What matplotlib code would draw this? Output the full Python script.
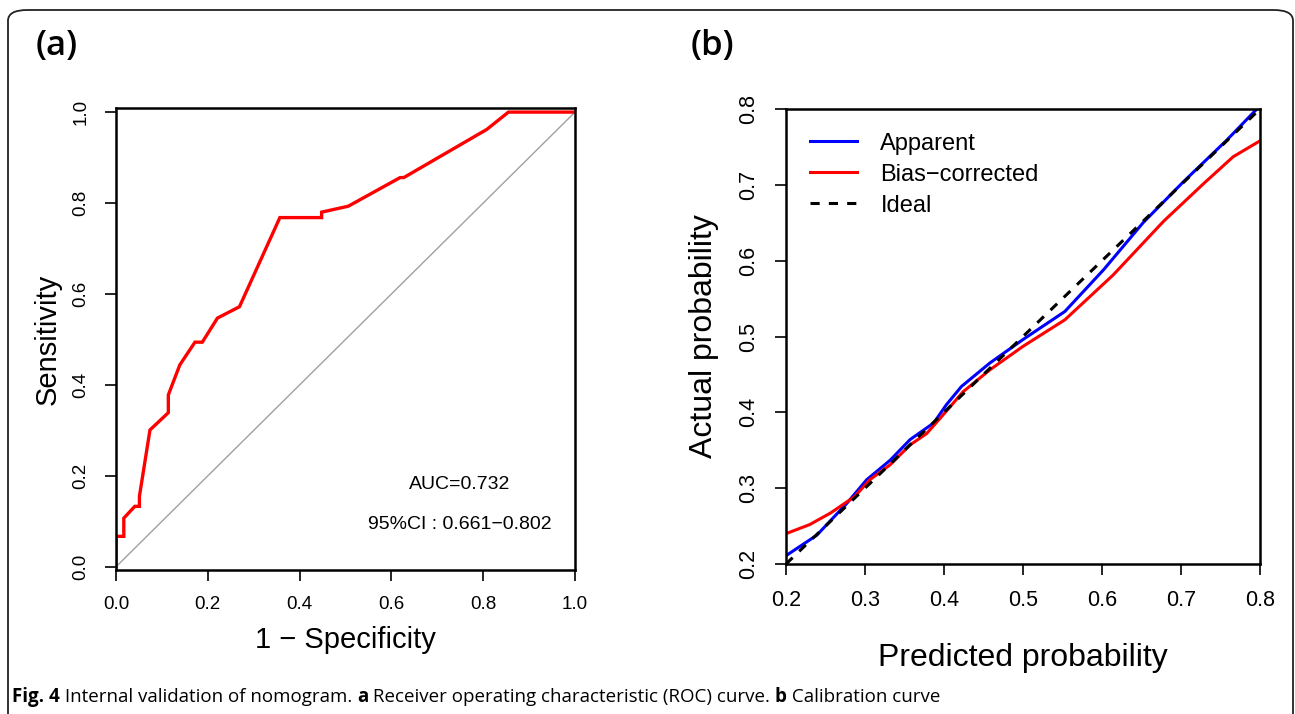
import numpy as np
import matplotlib.pyplot as plt
from matplotlib.patches import FancyBboxPatch

# ROC curve (panel a)
roc_fpr = [0.0, 0.0, 0.017, 0.017, 0.041, 0.051, 0.051, 0.074, 0.114, 0.114,
           0.139, 0.172, 0.188, 0.221, 0.269, 0.357, 0.448, 0.448, 0.506,
           0.619, 0.627, 0.808, 0.855, 1.0]
roc_tpr = [0.0, 0.067, 0.067, 0.107, 0.133, 0.133, 0.155, 0.301, 0.339, 0.378,
           0.444, 0.494, 0.494, 0.547, 0.572, 0.768, 0.768, 0.780, 0.793,
           0.856, 0.856, 0.962, 1.0, 1.0]
auc_text = "AUC=0.732"
ci_text = "95%CI : 0.661\u22120.802"

# Calibration curves (panel b)
app_x = [0.200, 0.239, 0.277, 0.302, 0.332, 0.357, 0.387, 0.403, 0.422, 0.458,
         0.500, 0.553, 0.602, 0.652, 0.703, 0.758, 0.796]
app_y = [0.211, 0.238, 0.280, 0.311, 0.337, 0.364, 0.386, 0.410, 0.434, 0.465,
         0.496, 0.533, 0.588, 0.650, 0.704, 0.759, 0.800]
bias_x = [0.200, 0.230, 0.256, 0.287, 0.306, 0.332, 0.357, 0.378, 0.395, 0.424,
          0.458, 0.500, 0.553, 0.614, 0.678, 0.728, 0.766, 0.800]
bias_y = [0.240, 0.252, 0.267, 0.289, 0.311, 0.331, 0.357, 0.372, 0.392, 0.427,
          0.456, 0.487, 0.522, 0.581, 0.652, 0.701, 0.737, 0.758]
ideal = [0.2, 0.8]

plt.rcParams['font.family'] = ['Liberation Sans', 'DejaVu Sans']
plt.rcParams['axes.linewidth'] = 1.8

W, H = 1295, 714
fig = plt.figure(figsize=(W / 100, H / 100), dpi=100)

# outer rounded frame
frame = FancyBboxPatch((8 / W, -0.05), 1285 / W, 1 - 10 / H + 0.05,
                       boxstyle="round,pad=0,rounding_size=0.015",
                       transform=fig.transFigure, fill=False,
                       edgecolor='#222222', linewidth=1.3)
fig.patches.append(frame)


def fax(x0, y0, x1, y1):
    return fig.add_axes([x0 / W, 1 - y1 / H, (x1 - x0) / W, (y1 - y0) / H])


tick_kw = dict(direction='out', length=8, width=1.2, pad=11)

# --- panel a ---
ax1 = fax(116, 108, 575, 570)
ax1.plot([0, 1], [0, 1], color='#a0a0a0', linewidth=1.0)
ax1.plot(roc_fpr, roc_tpr, color='#ff0000', linewidth=2.4, solid_joinstyle='miter')
ax1.set_xlim(0, 1)
ax1.set_ylim(-0.007, 1.009)
ticks = [0.0, 0.2, 0.4, 0.6, 0.8, 1.0]
ax1.set_xticks(ticks)
ax1.set_yticks(ticks)
ax1.set_xticklabels([f"{t:.1f}" for t in ticks], fontsize=13.5)
ax1.set_yticklabels([f"{t:.1f}" for t in ticks], fontsize=13.5, rotation=90, va='center')
ax1.tick_params(**tick_kw)
ax1.set_xlabel("1 \u2212 Specificity", fontsize=21, labelpad=9)
ax1.set_ylabel("Sensitivity", fontsize=21, labelpad=8)
ax1.text(0.749, 0.18, auc_text, fontsize=14, ha='center', va='center')
ax1.text(0.749, 0.092, ci_text, fontsize=14, ha='center', va='center')

# --- panel b ---
ax2 = fax(786, 109, 1260, 564)
ax2.plot(app_x, app_y, color='#0000ff', linewidth=2.2, label='Apparent')
ax2.plot(bias_x, bias_y, color='#ff0000', linewidth=2.2, label='Bias\u2212corrected')
ax2.plot(ideal, ideal, color='black', linewidth=2.2, linestyle=(0, (3, 3)), label='Ideal')
ax2.set_xlim(0.2, 0.8)
ax2.set_ylim(0.2, 0.8)
ticks2 = [0.2, 0.3, 0.4, 0.5, 0.6, 0.7, 0.8]
ax2.set_xticks(ticks2)
ax2.set_yticks(ticks2)
ax2.set_xticklabels([f"{t:.1f}" for t in ticks2], fontsize=15.5)
ax2.set_yticklabels([f"{t:.1f}" for t in ticks2], fontsize=15.5, rotation=90, va='center')
ax2.tick_params(**tick_kw)
ax2.set_xlabel("Predicted probability", fontsize=23, labelpad=23)
ax2.set_ylabel("Actual probability", fontsize=23, labelpad=14)
ax2.legend(loc='upper left', frameon=False, fontsize=17, handlelength=2.0,
           handletextpad=1.0, labelspacing=0.38, borderaxespad=0.6,
           bbox_to_anchor=(0.0, 1.0))

# panel letters
fig.text(57 / W, 1 - 46 / H, "(a)", fontsize=25, family='Open Sans',
         fontweight='semibold', ha='center', va='center')
fig.text(712 / W, 1 - 46 / H, "(b)", fontsize=25, family='Open Sans',
         fontweight='semibold', ha='center', va='center')

# caption, built piece by piece so bold parts line up
pieces = [("Fig. 4", 'bold'), (" Internal validation of nomogram. ", 'normal'),
          ("a", 'bold'), (" Receiver operating characteristic (ROC) curve. ", 'normal'),
          ("b", 'bold'), (" Calibration curve", 'normal')]
fig.canvas.draw()
renderer = fig.canvas.get_renderer()
x = 12
for s, wgt in pieces:
    t = fig.text(x / W, 1 - 697 / H, s, fontsize=13.5, family='Open Sans',
                 fontweight=wgt, ha='left', va='center')
    bb = t.get_window_extent(renderer)
    x += bb.width

fig.savefig("out.png", dpi=100)
